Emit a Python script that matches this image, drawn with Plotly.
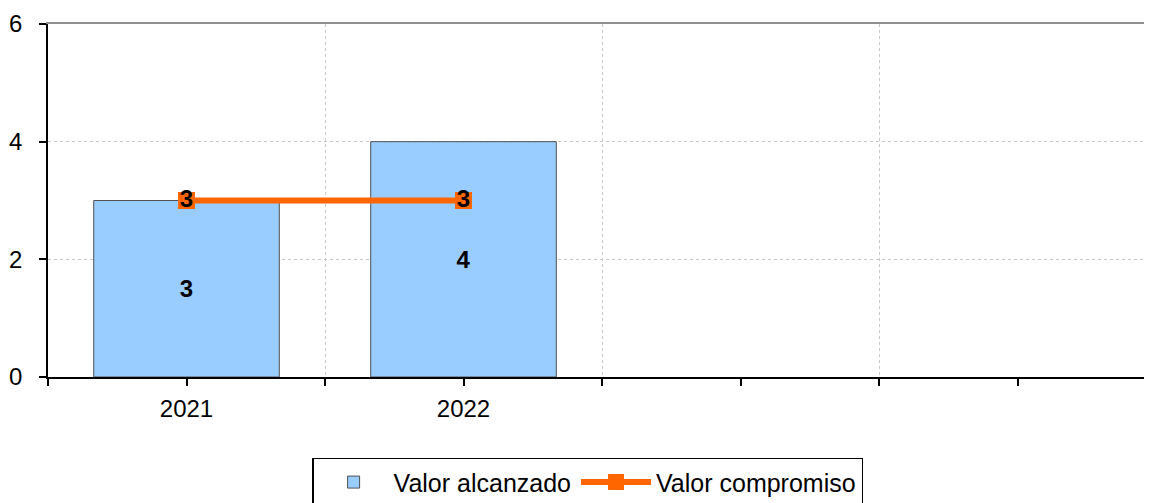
import plotly.graph_objects as go

BLUE   = "#99CCFF"
ORANGE = "#FF6600"
GRID   = "#C8C8C8"

years      = ["2021", "2022", "", ""]
achieved   = [3, 4]
commitment = [3, 3]

centers = list(range(len(years)))
bounds  = [c - 0.5 for c in centers] + [centers[-1] + 0.5]

# bottom axis: ticks at centres and boundaries, labels only at centres
tick_pos  = sorted(centers + bounds)
tick_text = [years[int(p)] if p in centers else "" for p in tick_pos]

fig = go.Figure()

fig.add_trace(go.Bar(
    x=centers[:len(achieved)], y=achieved,
    name="Valor alcanzado",
    width=0.67,
    marker=dict(color=BLUE, line=dict(color="#505050", width=1)),
    text=achieved, textposition="inside", insidetextanchor="middle",
    textfont=dict(size=24, color="black", family="Liberation Sans"),
    texttemplate="<b>%{text}</b>",
))

fig.add_trace(go.Scatter(
    x=centers[:len(commitment)], y=commitment,
    name="Valor compromiso",
    mode="lines+markers+text",
    line=dict(color=ORANGE, width=6),
    marker=dict(symbol="square", size=17, color=ORANGE),
    text=commitment, texttemplate="<b>%{text}</b>",
    textposition="middle center",
    textfont=dict(size=24, color="black", family="Liberation Sans"),
))

# invisible helper so the top axis is drawn
fig.add_trace(go.Scatter(x=[bounds[0]], y=[0], xaxis="x2", mode="markers",
                         marker=dict(opacity=0), showlegend=False, hoverinfo="skip"))

xrange = [bounds[0], bounds[-1]]

# the page body offsets the figure a little, margins compensate
fig.update_layout(
    width=1152, height=503,
    plot_bgcolor="white", paper_bgcolor="white",
    font=dict(family="Liberation Sans", size=24, color="black"),
    margin=dict(l=40, r=4, t=16, b=129),
    xaxis=dict(
        range=xrange, tickmode="array", tickvals=tick_pos, ticktext=tick_text,
        ticks="outside", ticklen=7, tickcolor="black", tickwidth=1.5,
        showgrid=False, zeroline=False, automargin=False,
        showline=True, linecolor="black", linewidth=1.5,
        ticklabelstandoff=2,
    ),
    xaxis2=dict(
        overlaying="x", side="top", range=xrange, automargin=False,
        tickmode="array", tickvals=bounds[1:-1], showticklabels=False,
        ticks="", showgrid=True, gridcolor=GRID, griddash="dot", gridwidth=1,
        showline=True, linecolor="#909090", linewidth=2, zeroline=False,
    ),
    yaxis=dict(
        range=[0, 6], dtick=2, ticks="outside", ticklen=7, automargin=False,
        tickcolor="black", tickwidth=1.5, ticklabelstandoff=12,
        showgrid=True, gridcolor=GRID, griddash="dot", gridwidth=1,
        showline=True, linecolor="black", linewidth=1.5, zeroline=False,
    ),
    legend=dict(
        orientation="h", x=0.487, xanchor="center", y=-0.229, yanchor="top",
        bordercolor="black", borderwidth=1.5,
        font=dict(size=25), itemwidth=70,
    ),
    showlegend=True,
)

fig.write_html("out.html")
